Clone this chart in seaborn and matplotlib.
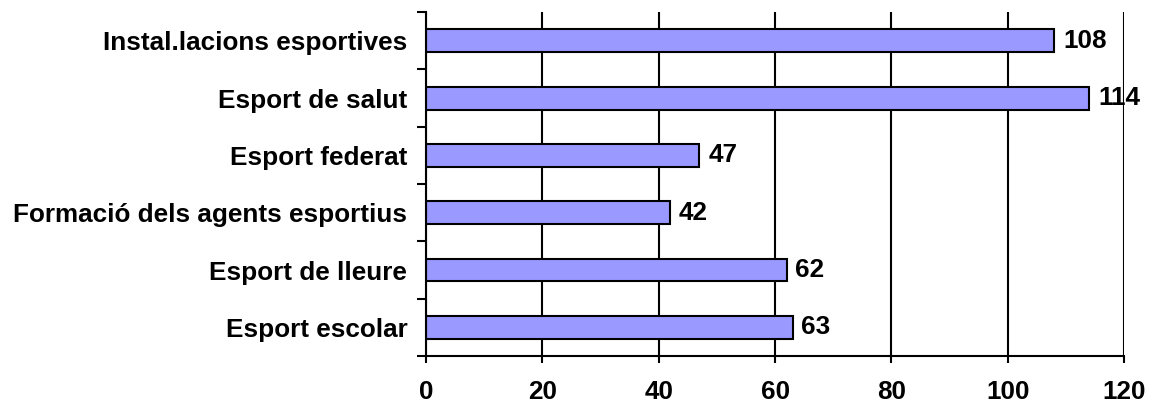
import pandas as pd
import numpy as np
import seaborn as sns
import matplotlib.pyplot as plt
from matplotlib.ticker import FixedLocator

categories = ['Instal.lacions esportives', 'Esport de salut', 'Esport federat',
              'Formació dels agents esportius', 'Esport de lleure', 'Esport escolar']
values = [108, 114, 47, 42, 62, 63]
x_ticks = [0, 20, 40, 60, 80, 100, 120]

data = pd.DataFrame({'category': categories, 'value': values})

sns.set_style('white')
plt.rcParams['font.family'] = ['Liberation Sans', 'DejaVu Sans']
plt.rcParams['font.weight'] = 'bold'
plt.rcParams['text.color'] = 'black'
plt.rcParams['xtick.color'] = 'black'
plt.rcParams['ytick.color'] = 'black'

fs = 18.8

fig = plt.figure(figsize=(11.53, 4.05), dpi=100)
ax = fig.add_axes([0.3695, 0.121, 0.6055, 0.849])

sns.barplot(data=data, x='value', y='category', orient='h', color='#9999FF',
            edgecolor='black', linewidth=1.5, width=0.40, saturation=1, ax=ax)

ax.set_xlim(0, 120)
ax.set_ylim(len(categories) - 0.5, -0.5)
ax.set_xticks(x_ticks)
ax.xaxis.grid(True, color='black', linewidth=1.5)
ax.set_axisbelow(True)
for s in ['top', 'right']:
    ax.spines[s].set_visible(False)
for s in ['left', 'bottom']:
    ax.spines[s].set_color('black')
    ax.spines[s].set_linewidth(1.5)

# y ticks at the category boundaries, labels at centres
ax.yaxis.set_major_locator(FixedLocator(np.arange(len(categories) + 1) - 0.5))
ax.set_yticklabels([])
ax.yaxis.set_minor_locator(FixedLocator(np.arange(len(categories))))
ax.set_yticklabels(categories, minor=True)
ax.tick_params(axis='y', which='major', length=6.5, width=1.5, color='black', direction='out', left=True)
ax.tick_params(axis='y', which='minor', length=0, pad=13.5, labelsize=fs, labelcolor='black')
ax.tick_params(axis='x', length=5, width=1.5, color='black', direction='out', bottom=True,
               labelsize=fs, pad=12, labelcolor='black')
for lab in ax.get_xticklabels() + ax.get_yticklabels(minor=True):
    lab.set_fontweight('bold')

for i, v in enumerate(values):
    ax.text(v + 1.5, i, str(v), va='center', ha='left', fontsize=fs, fontweight='bold',
            color='black', zorder=0.5)

ax.set_xlabel('')
ax.set_ylabel('')

fig.savefig('out.png', dpi=100)
